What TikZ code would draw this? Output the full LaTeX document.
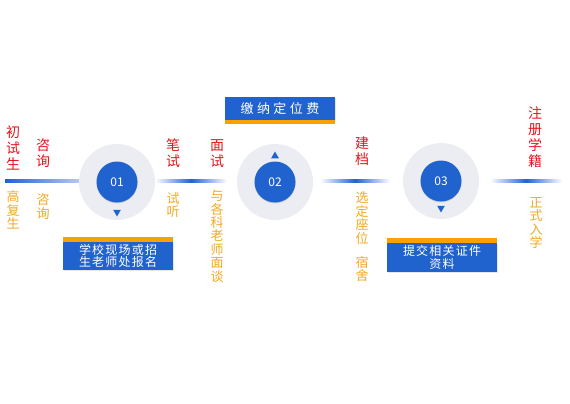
\documentclass[tikz,border=0pt]{standalone}
\usepackage{fontspec}
\setmainfont{Noto Sans CJK SC}
\newfontfamily\boxfont[LetterSpace=10]{Noto Sans CJK SC}
\newfontfamily\titlefont[LetterSpace=26]{Noto Sans CJK SC}
\usepackage{tikz}
\usetikzlibrary{shapes.geometric, positioning, shadows, calc}
\usepackage{xcolor}
\definecolor{stepblue}{RGB}{33,99,206}
\definecolor{lineblue}{RGB}{36,96,212}
\definecolor{ringgray}{RGB}{236,237,242}
\definecolor{titlered}{RGB}{228,20,28}
\definecolor{noteorange}{RGB}{242,168,36}
\definecolor{stripeorange}{RGB}{250,160,0}
\tikzset{
  ringdisc/.style={circle, fill=ringgray, minimum size=76pt, inner sep=0pt},
  numdisc/.style={circle, fill=stepblue, text=white, minimum size=41pt, inner sep=0pt,
    font=\fontsize{12}{12}\selectfont,
    drop shadow={shadow xshift=0pt, shadow yshift=-1pt, opacity=0.25}},
  redtext/.style={text=titlered, align=center, inner sep=0pt, font=\fontsize{14}{16}\selectfont},
  orangetext/.style={text=noteorange, align=center, inner sep=0pt, font=\fontsize{13}{13.4}\selectfont},
  bluebox/.style={rectangle, fill=stepblue, text=white, align=center, minimum width=110pt,
    inner sep=0pt, font=\boxfont\fontsize{12}{12.5}\selectfont,
    drop shadow={shadow xshift=1pt, shadow yshift=-1pt, opacity=0.2}},
  stripe/.style={fill=stripeorange},
  pointer/.style={regular polygon, regular polygon sides=3, fill=stepblue, minimum size=9pt, inner sep=0pt},
  fadeline/.style={left color=white, right color=white, middle color=lineblue}
}

\begin{document}
\begin{tikzpicture}[x=1pt, y=-1pt]
  \useasboundingbox (0,0) rectangle (570,404);

  % connecting lines
  \coordinate (lineA1) at (5,179);   \coordinate (lineA2) at (80,182);
  \coordinate (lineB1) at (155,179); \coordinate (lineB2) at (227,182);
  \coordinate (lineC1) at (320,179); \coordinate (lineC2) at (390,182);
  \coordinate (lineD1) at (490,179); \coordinate (lineD2) at (562,182);
  \shade[left color=lineblue, right color=lineblue!25!ringgray] (lineA1) rectangle (lineA2);
  \shade[fadeline] (lineB1) rectangle (lineB2);
  \shade[fadeline] (lineC1) rectangle (lineC2);
  \shade[fadeline] (lineD1) rectangle (lineD2);

  % steps
  \node[ringdisc] (ring1) at (117,182) {};
  \node[numdisc] (num1) at (ring1.center) {01};
  \node[pointer, shape border rotate=180] (tip1) at (117,212) {};

  \node[ringdisc] (ring2) at (275,182) {};
  \node[numdisc] (num2) at (ring2.center) {02};
  \node[pointer] (tip2) at (275,156) {};

  \node[ringdisc] (ring3) at (441,181) {};
  \node[numdisc] (num3) at (ring3.center) {03};
  \node[pointer, shape border rotate=180] (tip3) at (441,208) {};

  % boxes
  \node[bluebox, minimum height=28pt] (box1) at (118,256) {学校现场或招\\生老师处报名};
  \fill[stripe] (box1.north west) rectangle ([yshift=5pt]box1.north east);
  \node[bluebox, minimum height=23pt, font=\titlefont\fontsize{13}{13}\selectfont] (box2) at (280,108.5) {缴纳定位费};
  \fill[stripe] (box2.south west) rectangle ([yshift=-4pt]box2.south east);
  \node[bluebox, minimum height=29pt] (box3) at (442,257.5) {提交相关证件\\资料};
  \fill[stripe] (box3.north west) rectangle ([yshift=5pt]box3.north east);

  % red titles
  \node[redtext] (newcomer) at (13,148) {初\\试\\生};
  \node[redtext] (consult) at (43,153.5) {咨\\询};
  \node[redtext] (exam) at (173,153.5) {笔\\试};
  \node[redtext] (interview) at (217,153.5) {面\\试};
  \node[redtext] (archive) at (362,151.5) {建\\档};
  \node[redtext] (enroll) at (535,137.5) {注\\册\\学\\籍};

  % orange notes
  \node[orangetext] (repeater) at (13,210) {高\\复\\生};
  \node[orangetext] (consultnote) at (43,206.5) {咨\\询};
  \node[orangetext] (audit) at (173,205) {试\\听};
  \node[orangetext] (talk) at (217,236) {与\\各\\科\\老\\师\\面\\谈};
  \node[orangetext] (seat) at (362,218) {选\\定\\座\\位};
  \node[orangetext] (dorm) at (362,269) {宿\\舍};
  \node[orangetext] (formal) at (536,223) {正\\式\\入\\学};
\end{tikzpicture}
\end{document}
